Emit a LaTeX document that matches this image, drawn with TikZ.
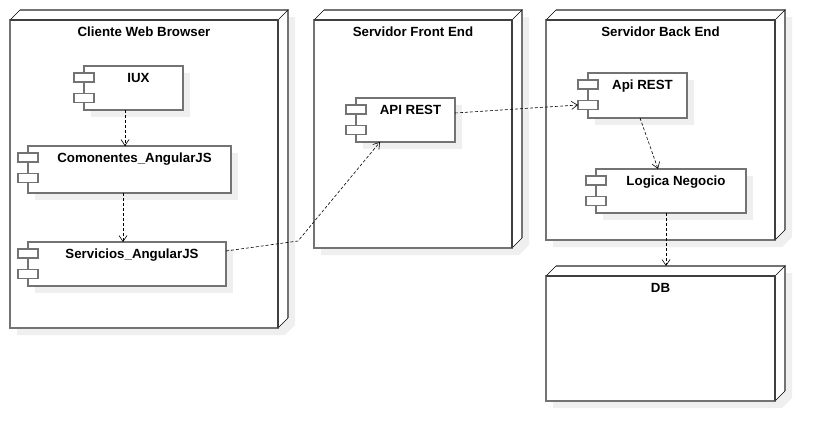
\documentclass[tikz,border=0pt]{standalone}
\usepackage{fontspec}
\setmainfont{Liberation Sans}
\usetikzlibrary{arrows.meta,calc,backgrounds,shadows}

\definecolor{edgedark}{HTML}{3F3F3F}
\definecolor{edgegray}{HTML}{737373}
\definecolor{shadowgray}{HTML}{EFEFEF}

\begin{document}
\begin{tikzpicture}[
    x=1pt, y=-1pt,
    font=\fontsize{13.3}{15}\selectfont\bfseries,
    hostnode/.style={draw=edgegray, line width=1.5pt, fill=white, rectangle, inner sep=0pt, outer sep=0pt},
    compnode/.style={draw=edgegray, line width=1.3pt, fill=white, rectangle, inner sep=0pt, outer sep=0pt,
        drop shadow={shadow xshift=7pt, shadow yshift=-7pt, fill=shadowgray, opacity=1}},
    port/.style={draw=edgegray, line width=1.2pt, fill=white, rectangle, inner sep=0pt, outer sep=0pt,
        minimum width=20pt, minimum height=9pt},
    hosttitle/.style={anchor=center, yshift=-12.5pt, text height=9.5pt, text depth=2.5pt},
    dep/.style={-{Straight Barb[length=6pt,width=8pt]}, dash pattern=on 3pt off 2pt, line width=0.6pt}
]
\useasboundingbox (0,0) rectangle (826,442);

% nodos de despliegue
\node[hostnode, minimum width=268pt, minimum height=308pt, label={[hosttitle]north:Cliente Web Browser}] (cliente) at (144,174) {};
\node[hostnode, minimum width=198pt, minimum height=228pt, label={[hosttitle]north:Servidor Front End}] (front) at (413,134) {};
\node[hostnode, minimum width=229pt, minimum height=220pt, label={[hosttitle]north:Servidor Back End}] (back) at (660.5,130) {};
\node[hostnode, minimum width=229pt, minimum height=125pt, label={[hosttitle]north:DB}] (db) at (660.5,338.5) {};

\foreach \n in {cliente,front,back,db} {
    \fill[white] (\n.north west) -- ++(10,-10) -- ($(\n.north east)+(10,-10)$) -- ($(\n.south east)+(10,-10)$)
        -- (\n.south east) -- (\n.north east) -- cycle;
    \draw[edgegray, line width=1.5pt] ($(\n.north west)+(10,-10)$) -- ($(\n.north east)+(10,-10)$) -- ($(\n.south east)+(10,-10)$);
    \draw[line width=0.5pt] (\n.north west) -- ++(10,-10) (\n.north east) -- ++(10,-10) (\n.south east) -- ++(10,-10);
    \draw[edgedark, line width=1.5pt] (\n.north west) -- (\n.north east) -- (\n.south east);
}
\begin{scope}[on background layer]
\foreach \n in {cliente,front,back,db}
    \fill[shadowgray] ($(\n.north west)+(7,7)$) -- ($(\n.north west)+(17,-3)$) -- ($(\n.north east)+(17,-3)$)
        -- ($(\n.south east)+(17,-3)$) -- ($(\n.south east)+(7,7)$) -- ($(\n.south west)+(7,7)$) -- cycle;
\end{scope}

% componentes
\node[compnode, minimum width=99pt, minimum height=44pt, label={[hosttitle, xshift=5pt]north:IUX}] (iux) at (133.5,88) {};
\node[compnode, minimum width=203pt, minimum height=47pt, label={[hosttitle, xshift=5pt]north:Comonentes\_AngularJS}] (componentes) at (129.5,169.5) {};
\node[compnode, minimum width=198pt, minimum height=44pt, label={[hosttitle, xshift=5pt]north:Servicios\_AngularJS}] (servicios) at (127,264) {};
\node[compnode, minimum width=99pt, minimum height=44pt, label={[hosttitle, xshift=5pt]north:API REST}] (apifront) at (405.5,120) {};
\node[compnode, minimum width=99pt, minimum height=45pt, label={[hosttitle, xshift=5pt]north:Api REST}] (apiback) at (637.5,95.5) {};
\node[compnode, minimum width=150pt, minimum height=44pt, label={[hosttitle, xshift=5pt]north:Logica Negocio}] (logica) at (671,191) {};

\foreach \c in {iux,componentes,servicios,apifront,apiback,logica} {
    \node[port] (\c-p1) at ($(\c.north west)+(0,11.5)$) {};
    \node[port] (\c-p2) at ($(\c.north west)+(0,32)$) {};
}

% dependencias
\coordinate (bend) at (298,241);
\draw[dep] ([xshift=-8.5pt]iux.south) -- ([xshift=-8.5pt]iux.south |- componentes.north);
\draw[dep] ([xshift=-6.5pt]componentes.south) -- ([xshift=-6.5pt]componentes.south |- servicios.north);
\draw[dep] ([yshift=-9pt]servicios.north east) -- (bend) -- ([xshift=-25.5pt]apifront.south);
\draw[dep] ([yshift=-15pt]apifront.north east) -- (apiback-p2.west);
\draw[dep] ([xshift=2.5pt]apiback.south) -- ([xshift=-13pt]logica.north);
\draw[dep] ([xshift=-5pt]logica.south) -- ([xshift=-5pt,yshift=10pt]logica.south |- db.north);
\end{tikzpicture}
\end{document}
